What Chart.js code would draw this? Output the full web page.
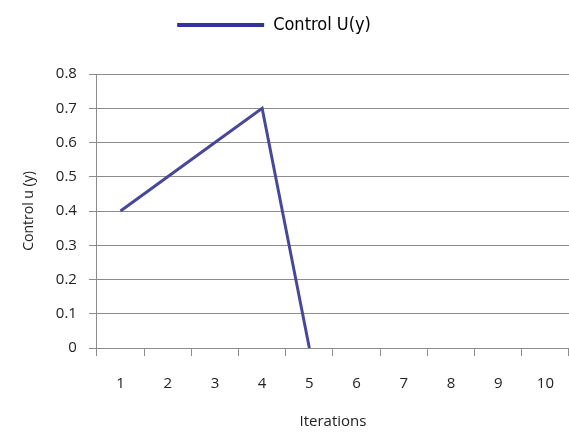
<!DOCTYPE html>
<html>
<head>
<meta charset="utf-8">
<script src="https://cdn.jsdelivr.net/npm/chart.js@4/dist/chart.umd.min.js"></script>
<style>
  html, body { margin: 0; padding: 0; background: #fff; }
  #wrap { width: 569px; height: 432px; }
</style>
</head>
<body>
<div id="wrap"><canvas id="chart"></canvas></div>
<script>
// chart data
const iterations = ['1', '2', '3', '4', '5', '6', '7', '8', '9', '10'];
const controlU = [0.4, 0.5, 0.6, 0.7, 0, null, null, null, null, null];
const seriesName = 'Control U(y)';

const lineColor = '#48489a';
const gridColor = '#8c8c8c';
const tickFont = { family: 'Open Sans', size: 15 };

// push the plot down below the legend and nudge the legend a bit left, like the excel original
const legendTweak = {
    id: 'legendTweak',
    beforeInit(chart) {
        const fit = chart.legend.fit;
        chart.legend.fit = function () {
            fit.bind(chart.legend)();
            this.height += 30;
        };
    },
    afterLayout(chart) {
        chart.legend.left -= 18;
        chart.legend.right -= 18;
    }
};

const ctx = document.getElementById('chart').getContext('2d');
new Chart(ctx, {
    type: 'line',
    data: {
        labels: iterations,
        datasets: [{
            label: seriesName,
            data: controlU,
            borderColor: lineColor,
            borderWidth: 3,
            pointRadius: 0,
            tension: 0,
            fill: false
        }]
    },
    plugins: [legendTweak],
    options: {
        responsive: true,
        maintainAspectRatio: false,
        animation: false,
        layout: { padding: { left: 15, right: 0, top: 4, bottom: 1 } },
        plugins: {
            tooltip: { enabled: false },
            legend: {
                position: 'top',
                labels: {
                    boxWidth: 87,
                    boxHeight: 4,
                    padding: 12,
                    color: '#000',
                    font: { family: 'Liberation Sans Narrow, DejaVu Sans Condensed, Liberation Sans', size: 18 },
                    generateLabels: () => [{
                        text: seriesName,
                        fillStyle: '#333399',
                        strokeStyle: '#333399',
                        lineWidth: 0,
                        datasetIndex: 0
                    }]
                }
            }
        },
        scales: {
            x: {
                offset: true,
                // long tick with a dash so only the first 7px shows; keeps labels low without side padding
                grid: { offset: true, drawOnChartArea: false, drawTicks: true, tickLength: 13, tickBorderDash: [7, 60], color: gridColor },
                border: { display: true, color: gridColor, width: 1 },
                ticks: { color: '#222', font: tickFont, padding: 14 },
                title: { display: true, text: 'Iterations', color: '#222', font: tickFont, padding: { top: 6, bottom: 0 } }
            },
            y: {
                min: 0,
                max: 0.8,
                ticks: { stepSize: 0.1, color: '#222', font: tickFont, padding: 12 },
                grid: { color: gridColor, lineWidth: 1, drawTicks: true, tickLength: 8 },
                border: { display: true, color: gridColor, width: 1 },
                title: { display: true, text: 'Control u (y)', color: '#222', font: { family: 'Open Sans', size: 14 }, padding: 6 }
            }
        }
    }
});
</script>
</body>
</html>
